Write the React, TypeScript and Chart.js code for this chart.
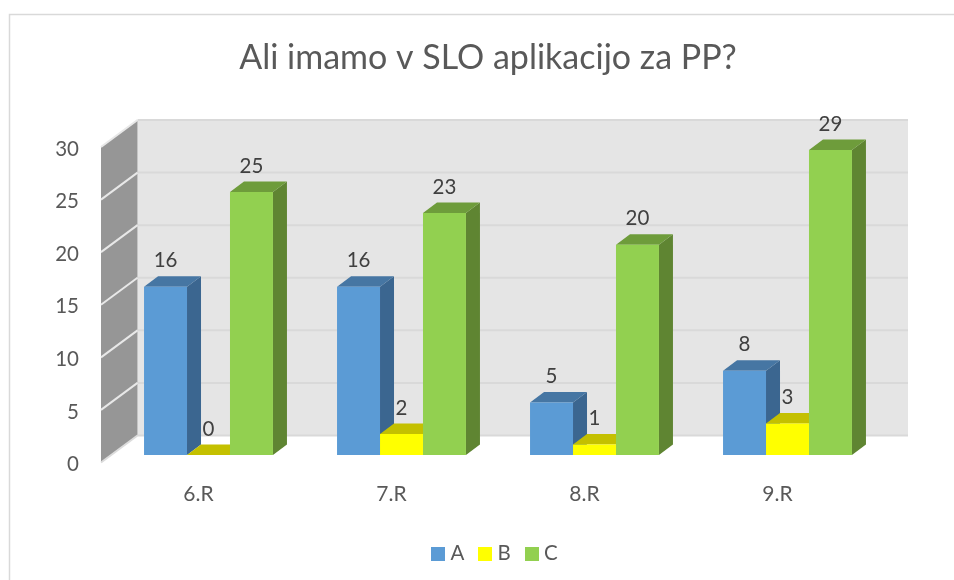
import React, { useEffect, useRef } from "react";
import { Chart, registerables } from "chart.js";

Chart.register(...registerables);

const categories = ["6.R", "7.R", "8.R", "9.R"];
const seriesA = [16, 16, 5, 8];
const seriesB = [0, 2, 1, 3];
const seriesC = [25, 23, 20, 29];
const titleText = "Ali imamo v SLO aplikacijo za PP?";
const FONT = "Lato";

const faces = [
  { front: "#5b9bd5", side: "#3b6690", top: "#4676a3" },
  { front: "#ffff00", side: "#a8a600", top: "#c4c000" },
  { front: "#92d050", side: "#5f8532", top: "#6e9c3b" },
];

const depthX = 14;
const depthY = 10.5;

function poly(ctx: CanvasRenderingContext2D, pts: number[][], fill: string) {
  ctx.beginPath();
  pts.forEach(([x, y], i) => (i ? ctx.lineTo(x, y) : ctx.moveTo(x, y)));
  ctx.closePath();
  ctx.fillStyle = fill;
  ctx.fill();
}

function swatch(color: string) {
  const c = document.createElement("canvas");
  c.width = 14;
  c.height = 14;
  const g = c.getContext("2d") as CanvasRenderingContext2D;
  g.fillStyle = color;
  g.fillRect(0, 0, 14, 14);
  return c;
}

const scene3d = {
  id: "scene3d",
  afterLayout(chart: any) {
    chart.legend.left += 9;
    chart.legend.right += 9;
  },
  beforeDatasetsDraw(chart: any) {
    const { ctx, chartArea: a, scales } = chart;
    const y = scales.y;
    const wallL = a.left - 11;
    const wallB = a.left + 25.5;
    const wallR = a.right + 24;
    const frontDy = 7.5;
    const backDy = -19.5;
    const y0 = y.getPixelForValue(0);
    const yMax = y.getPixelForValue(30);
    ctx.save();
    poly(ctx, [[wallB, yMax + backDy], [wallR, yMax + backDy], [wallR, y0 + backDy], [wallB, y0 + backDy]], "#e5e5e5");
    poly(ctx, [[wallL, yMax + frontDy], [wallB, yMax + backDy], [wallB, y0 + backDy], [wallL, y0 + frontDy]], "#969696");
    y.ticks.forEach((t: any) => {
      const p = y.getPixelForValue(t.value);
      ctx.beginPath();
      ctx.moveTo(wallB, p + backDy);
      ctx.lineTo(wallR, p + backDy);
      ctx.strokeStyle = "#d9d9d9";
      ctx.lineWidth = 2;
      ctx.stroke();
      ctx.beginPath();
      ctx.moveTo(wallL, p + frontDy);
      ctx.lineTo(wallB, p + backDy);
      ctx.strokeStyle = t.value === 0 ? "#dcdcdc" : "#e8e8e8";
      ctx.lineWidth = 2;
      ctx.stroke();
    });
    chart.data.datasets.forEach((_: any, di: number) => {
      const meta = chart.getDatasetMeta(di);
      meta.data.forEach((bar: any) => {
        const l = bar.x - bar.width / 2;
        const r = bar.x + bar.width / 2;
        const top = bar.y;
        const base = bar.base;
        poly(ctx, [[r, top], [r + depthX, top - depthY], [r + depthX, base - depthY], [r, base]], faces[di].side);
        poly(ctx, [[l, top], [l + depthX, top - depthY], [r + depthX, top - depthY], [r, top]], faces[di].top);
      });
    });
    ctx.restore();
  },
  afterDatasetsDraw(chart: any) {
    const { ctx } = chart;
    ctx.save();
    ctx.font = `20.5px ${FONT}`;
    ctx.fillStyle = "#404040";
    ctx.textAlign = "center";
    ctx.textBaseline = "middle";
    chart.data.datasets.forEach((ds: any, di: number) => {
      chart.getDatasetMeta(di).data.forEach((bar: any, i: number) => {
        ctx.fillText(String(ds.data[i]), bar.x, bar.y - 26);
      });
    });
    ctx.restore();
  },
};

const framePlugin = {
  id: "frame",
  beforeDraw(chart: any) {
    const { ctx, width, height } = chart;
    ctx.save();
    ctx.fillStyle = "#ffffff";
    ctx.fillRect(0, 0, width, height);
    ctx.strokeStyle = "#d9d9d9";
    ctx.lineWidth = 1.5;
    ctx.beginPath();
    ctx.moveTo(9.5, height);
    ctx.lineTo(9.5, 14.5);
    ctx.lineTo(width, 14.5);
    ctx.stroke();
    ctx.restore();
  },
};

export default function App() {
  const ref = useRef<HTMLCanvasElement>(null);
  useEffect(() => {
    const chart = new Chart(ref.current as HTMLCanvasElement, {
      type: "bar",
      data: {
        labels: categories,
        datasets: [
          { label: "A", data: seriesA, backgroundColor: faces[0].front },
          { label: "B", data: seriesB, backgroundColor: faces[1].front },
          { label: "C", data: seriesC, backgroundColor: faces[2].front },
        ],
      },
      plugins: [framePlugin, scene3d],
      options: {
        animation: false,
        responsive: false,
        layout: { padding: { left: 22, right: 0, top: 0, bottom: 6 } },
        datasets: { bar: { categoryPercentage: 0.668, barPercentage: 1, minBarLength: 0 } },
        plugins: {
          tooltip: { enabled: false },
          title: {
            display: true,
            text: titleText,
            color: "#595959",
            font: { family: FONT, size: 34, weight: "normal" },
            padding: { top: 38, bottom: 60.7 },
          },
          legend: {
            position: "bottom",
            labels: {
              usePointStyle: true,
              pointStyleWidth: 4,
              boxHeight: 14,
              padding: 19,
              color: "#595959",
              font: { family: FONT, size: 20.5 },
              generateLabels: (chart: any) =>
                chart.data.datasets.map((d: any, i: number) => ({
                  text: d.label,
                  pointStyle: swatch(faces[i].front),
                  fillStyle: faces[i].front,
                  strokeStyle: faces[i].front,
                  fontColor: "#595959",
                  lineWidth: 0,
                  hidden: false,
                  datasetIndex: i,
                })),
            },
          },
        },
        scales: {
          x: {
            grid: { display: false, drawTicks: false },
            border: { display: false },
            ticks: {
              color: "#595959",
              font: { family: FONT, size: 21 },
              padding: 27,
              labelOffset: -10,
              maxRotation: 0,
            },
            afterFit(s: any) {
              s.height = 69.5;
            },
          },
          y: {
            min: 0,
            max: 30,
            grid: { display: false, drawTicks: false },
            border: { display: false },
            ticks: {
              stepSize: 5,
              color: "#595959",
              font: { family: FONT, size: 20.5 },
              padding: 33,
              labelOffset: 9.5,
            },
            afterFit(s: any) {
              s.width = 90;
            },
          },
          spare: {
            position: "right",
            display: true,
            grid: { display: false, drawTicks: false },
            border: { display: false },
            ticks: { display: false },
            afterFit(s: any) {
              s.width = 70;
            },
          },
        },
      },
    } as any);
    return () => chart.destroy();
  }, []);
  return (
    <div style={{ position: "absolute", left: 0, top: 0, width: 954, height: 580 }}>
      <canvas ref={ref} width={954} height={580} style={{ display: "block" }} />
    </div>
  );
}
